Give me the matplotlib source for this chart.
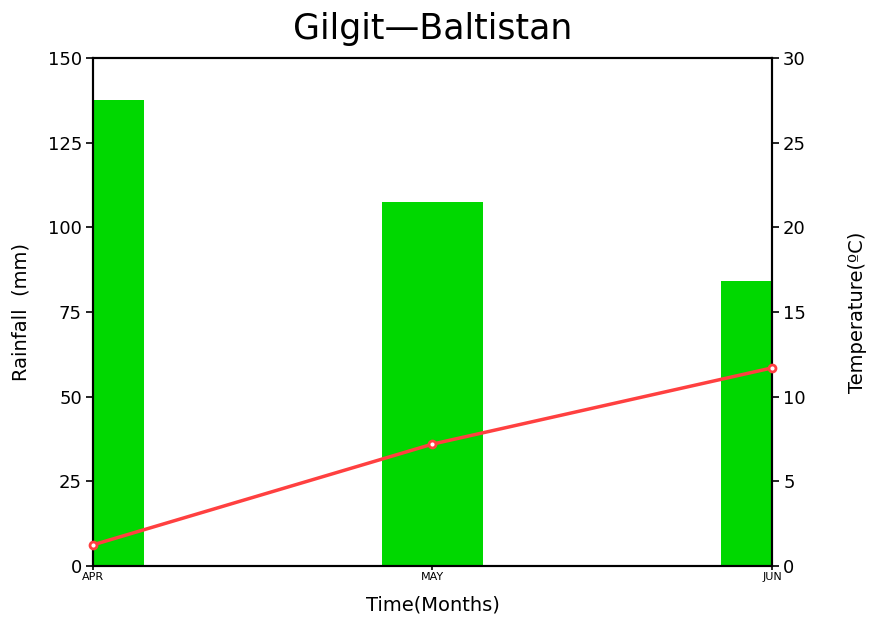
import matplotlib
matplotlib.use("Agg")
import matplotlib.pyplot as plt

# data
months = ["APR", "MAY", "JUN"]
rainfall = [137.6, 107.5, 84.2]
temperature = [1.25, 7.2, 11.7]

x = list(range(len(months)))

fig = plt.figure(figsize=(8.74, 6.24), dpi=100)
ax = fig.add_axes([0.1064, 0.0929, 0.7769, 0.8141])

ax.bar(x, rainfall, width=0.3, color="#00d800", zorder=1)
ax.set_xlim(0, 2)
ax.set_ylim(0, 150)
ax.set_yticks([0, 25, 50, 75, 100, 125, 150])
ax.set_xticks(x)
ax.set_xticklabels(months, fontsize=8)
ax.tick_params(axis="y", direction="out", length=5, width=1.2, labelsize=13, pad=3)
ax.tick_params(axis="x", direction="out", length=3, width=1.2, pad=1)
for s in ax.spines.values():
    s.set_linewidth(1.5)
ax.set_ylabel("Rainfall  (mm)", fontsize=14, labelpad=12)
ax.set_xlabel("Time(Months)", fontsize=14, labelpad=10)
ax.set_title("Gilgit\u2014Baltistan", fontsize=25, pad=14)

ax2 = ax.twinx()
ax2.plot(x, temperature, color="#ff4040", linewidth=2.5, marker="o",
         markersize=5, markerfacecolor="white", markeredgecolor="#ff4040",
         markeredgewidth=2, clip_on=False, zorder=3)
ax2.set_ylim(0, 30)
ax2.set_yticks([0, 5, 10, 15, 20, 25, 30])
ax2.tick_params(axis="y", direction="out", length=5, width=1.2, labelsize=13, pad=3)
ax2.set_ylabel("Temperature(\u00baC)", fontsize=14, labelpad=30)
for s in ax2.spines.values():
    s.set_linewidth(1.5)

fig.savefig("out.png", dpi=100)
